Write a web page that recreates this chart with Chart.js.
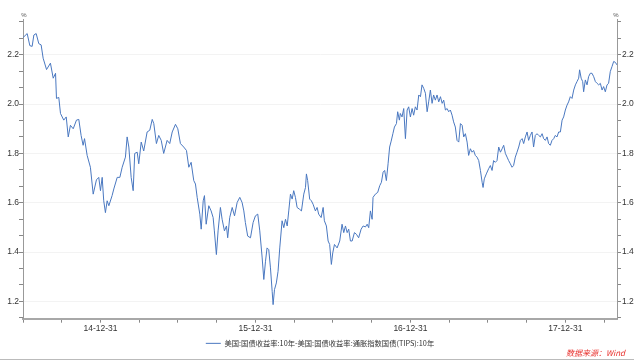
<!DOCTYPE html>
<html>
<head>
<meta charset="utf-8">
<script src="https://cdn.jsdelivr.net/npm/chart.js@4"></script>
<style>
  html, body { margin: 0; padding: 0; background: #fff; }
  #wrap { width: 640px; height: 360px; }
</style>
</head>
<body>
<div id="wrap"><canvas id="spreadChart" width="640" height="360"></canvas></div>
<script>
// time in decimal years (2015.0 = 14-12-31)
const t = [
  2014.501, 2014.527, 2014.544, 2014.559, 2014.570, 2014.585, 2014.602, 2014.617, 2014.630, 2014.652,
  2014.677, 2014.695, 2014.710, 2014.716, 2014.731, 2014.742, 2014.763, 2014.779, 2014.792, 2014.806,
  2014.824, 2014.845, 2014.860, 2014.875, 2014.888, 2014.897, 2014.914, 2014.935, 2014.953, 2014.974,
  2014.989, 2015.000, 2015.011, 2015.021, 2015.032, 2015.043, 2015.054, 2015.075, 2015.086, 2015.108,
  2015.125, 2015.140, 2015.161, 2015.172, 2015.183, 2015.198, 2015.211, 2015.221, 2015.237, 2015.247,
  2015.263, 2015.279, 2015.301, 2015.318, 2015.334, 2015.344, 2015.361, 2015.376, 2015.392, 2015.408,
  2015.430, 2015.447, 2015.463, 2015.484, 2015.499, 2015.516, 2015.537, 2015.555, 2015.570, 2015.585,
  2015.602, 2015.613, 2015.624, 2015.641, 2015.650, 2015.663, 2015.671, 2015.682, 2015.699, 2015.714,
  2015.727, 2015.735, 2015.748, 2015.759, 2015.774, 2015.785, 2015.800, 2015.813, 2015.821, 2015.834,
  2015.850, 2015.865, 2015.882, 2015.899, 2015.914, 2015.925, 2015.935, 2015.950, 2015.968, 2015.985,
  2016.000, 2016.015, 2016.028, 2016.043, 2016.054, 2016.065, 2016.075, 2016.086, 2016.097, 2016.108,
  2016.114, 2016.123, 2016.135, 2016.146, 2016.157, 2016.172, 2016.183, 2016.194, 2016.205, 2016.215,
  2016.226, 2016.237, 2016.247, 2016.258, 2016.269, 2016.284, 2016.297, 2016.312, 2016.323, 2016.329,
  2016.337, 2016.350, 2016.361, 2016.372, 2016.387, 2016.398, 2016.408, 2016.424, 2016.437, 2016.445,
  2016.458, 2016.469, 2016.479, 2016.490, 2016.499, 2016.510, 2016.527, 2016.544, 2016.559, 2016.570,
  2016.581, 2016.592, 2016.602, 2016.613, 2016.624, 2016.639, 2016.652, 2016.666, 2016.682, 2016.695,
  2016.710, 2016.721, 2016.731, 2016.742, 2016.753, 2016.759, 2016.774, 2016.789, 2016.802, 2016.813,
  2016.824, 2016.834, 2016.845, 2016.856, 2016.866, 2016.876, 2016.887, 2016.897, 2016.910, 2016.918,
  2016.929, 2016.935, 2016.946, 2016.957, 2016.968, 2016.979, 2016.989, 2017.000, 2017.011, 2017.021,
  2017.032, 2017.043, 2017.054, 2017.065, 2017.075, 2017.086, 2017.097, 2017.108, 2017.118, 2017.129,
  2017.140, 2017.150, 2017.161, 2017.172, 2017.183, 2017.194, 2017.205, 2017.215, 2017.226, 2017.237,
  2017.247, 2017.258, 2017.269, 2017.279, 2017.290, 2017.301, 2017.312, 2017.323, 2017.334, 2017.344,
  2017.355, 2017.366, 2017.376, 2017.387, 2017.398, 2017.408, 2017.419, 2017.430, 2017.441, 2017.452,
  2017.463, 2017.469, 2017.477, 2017.490, 2017.505, 2017.516, 2017.527, 2017.537, 2017.548, 2017.559,
  2017.570, 2017.581, 2017.592, 2017.602, 2017.613, 2017.624, 2017.634, 2017.645, 2017.656, 2017.666,
  2017.677, 2017.688, 2017.699, 2017.710, 2017.721, 2017.731, 2017.742, 2017.753, 2017.763, 2017.774,
  2017.785, 2017.795, 2017.806, 2017.817, 2017.828, 2017.839, 2017.850, 2017.860, 2017.871, 2017.882,
  2017.892, 2017.903, 2017.914, 2017.925, 2017.935, 2017.946, 2017.957, 2017.968, 2017.979, 2017.989,
  2018.000, 2018.011, 2018.021, 2018.032, 2018.043, 2018.054, 2018.065, 2018.075, 2018.086, 2018.092,
  2018.102, 2018.112, 2018.118, 2018.129, 2018.140, 2018.150, 2018.161, 2018.172, 2018.183, 2018.194,
  2018.205, 2018.215, 2018.226, 2018.237, 2018.247, 2018.258, 2018.269, 2018.279, 2018.290, 2018.301,
  2018.312, 2018.323, 2018.333
];

// 10y nominal minus 10y TIPS, %
const spread = [
  2.270, 2.286, 2.237, 2.234, 2.280, 2.286, 2.245, 2.240, 2.186, 2.140,
  2.166, 2.105, 2.125, 2.023, 2.027, 1.962, 1.935, 1.948, 1.867, 1.914,
  1.900, 1.935, 1.938, 1.873, 1.833, 1.860, 1.792, 1.744, 1.635, 1.693,
  1.703, 1.649, 1.703, 1.608, 1.560, 1.608, 1.588, 1.629, 1.656, 1.703,
  1.703, 1.744, 1.785, 1.867, 1.826, 1.703, 1.649, 1.800, 1.805, 1.758,
  1.846, 1.810, 1.887, 1.894, 1.938, 1.921, 1.840, 1.873, 1.853, 1.800,
  1.853, 1.840, 1.887, 1.918, 1.900, 1.840, 1.826, 1.812, 1.744, 1.764,
  1.690, 1.676, 1.622, 1.554, 1.493, 1.608, 1.629, 1.513, 1.588, 1.567,
  1.540, 1.486, 1.390, 1.486, 1.581, 1.533, 1.486, 1.506, 1.458, 1.540,
  1.581, 1.547, 1.601, 1.622, 1.601, 1.567, 1.520, 1.465, 1.458, 1.520,
  1.547, 1.554, 1.486, 1.380, 1.289, 1.363, 1.417, 1.410, 1.336, 1.241,
  1.187, 1.248, 1.275, 1.322, 1.417, 1.527, 1.499, 1.533, 1.506, 1.567,
  1.635, 1.615, 1.649, 1.622, 1.581, 1.574, 1.567, 1.635, 1.662, 1.717,
  1.690, 1.615, 1.608, 1.594, 1.567, 1.581, 1.554, 1.540, 1.581, 1.527,
  1.506, 1.445, 1.431, 1.350, 1.397, 1.431, 1.417, 1.445, 1.513, 1.479,
  1.506, 1.479, 1.493, 1.445, 1.445, 1.479, 1.472, 1.458, 1.493, 1.506,
  1.502, 1.513, 1.499, 1.567, 1.533, 1.622, 1.635, 1.642, 1.669, 1.683,
  1.724, 1.731, 1.690, 1.758, 1.826, 1.850, 1.880, 1.907, 1.921, 1.969,
  1.935, 1.962, 1.948, 1.982, 1.860, 1.976, 1.989, 1.948, 1.982, 1.955,
  1.989, 1.976, 2.037, 2.030, 2.078, 2.064, 2.044, 1.969, 2.009, 2.057,
  2.003, 2.037, 2.016, 2.037, 2.009, 2.030, 2.003, 2.016, 1.976, 1.982,
  1.969, 1.976, 1.955, 1.928, 1.907, 1.853, 1.846, 1.921, 1.914, 1.867,
  1.880, 1.846, 1.792, 1.819, 1.805, 1.812, 1.792, 1.785, 1.771, 1.731,
  1.683, 1.662, 1.697, 1.717, 1.738, 1.751, 1.731, 1.771, 1.764, 1.771,
  1.826, 1.805, 1.819, 1.833, 1.800, 1.785, 1.771, 1.758, 1.744, 1.751,
  1.785, 1.805, 1.826, 1.853, 1.860, 1.840, 1.867, 1.887, 1.853, 1.873,
  1.887, 1.826, 1.873, 1.880, 1.873, 1.867, 1.880, 1.860, 1.853, 1.867,
  1.840, 1.833, 1.853, 1.860, 1.873, 1.867, 1.887, 1.887, 1.935, 1.948,
  1.976, 1.996, 2.009, 2.030, 2.023, 2.057, 2.078, 2.091, 2.105, 2.139,
  2.105, 2.091, 2.050, 2.098, 2.078, 2.111, 2.125, 2.125, 2.111, 2.091,
  2.084, 2.078, 2.084, 2.057, 2.071, 2.050, 2.078, 2.084, 2.132, 2.152,
  2.173, 2.169, 2.159
];

const xTickYears = [2015, 2016, 2017, 2018];
const xTickLabels = ['14-12-31', '15-12-31', '16-12-31', '17-12-31'];
const yTickLabels = [1.2, 1.4, 1.6, 1.8, 2.0, 2.2];
const seriesName = '美国:国债收益率:10年-美国:国债收益率:通胀指数国债(TIPS):10年';
const sourceText = '数据来源：Wind';

const xMin = 2014.5, xMax = 2018 + 1 / 3;
const yMin = 1.13, yMax = 2.345;

function isMajorY(v) {
  return yTickLabels.some(m => Math.abs(m - v) < 1e-6);
}

// quarters on x, thirds of 0.2 on y
function xTicks() {
  const out = [];
  for (let q = 0; xMin + q * 0.25 < xMax - 1e-6; q++) out.push({ value: xMin + q * 0.25 });
  return out;
}
function yTicks() {
  const out = [];
  for (let k = 17; k <= 35; k++) out.push({ value: k / 15 });
  return out;
}

const extras = {
  id: 'extras',
  afterDraw(chart) {
    const ctx = chart.ctx;
    const a = chart.chartArea;
    ctx.save();
    ctx.fillStyle = '#555';
    ctx.font = '6px "Liberation Sans", sans-serif';
    ctx.textAlign = 'center';
    ctx.textBaseline = 'bottom';
    ctx.fillText('%', a.left + 1, a.top - 1);
    ctx.fillText('%', a.right - 1, a.top - 1);

    ctx.fillStyle = '#e8302c';
    ctx.font = 'italic 8px "Noto Sans CJK SC", sans-serif';
    ctx.textAlign = 'right';
    ctx.textBaseline = 'middle';
    ctx.fillText(sourceText, 625, 353);

    ctx.strokeStyle = '#bbbbbb';
    ctx.lineWidth = 1;
    ctx.beginPath();
    ctx.moveTo(0, 359.5);
    ctx.lineTo(634, 359.5);
    ctx.stroke();
    ctx.restore();
  }
};

const tickFont = { family: '"Liberation Sans", sans-serif', size: 8.5 };

new Chart(document.getElementById('spreadChart').getContext('2d'), {
  type: 'line',
  data: {
    datasets: [{
      label: seriesName,
      data: spread.map((v, i) => ({ x: t[i], y: v })),
      borderColor: '#4a78c0',
      backgroundColor: '#4a78c0',
      borderWidth: 1,
      pointRadius: 0,
      tension: 0,
      yAxisID: 'y'
    }]
  },
  options: {
    responsive: false,
    animation: false,
    devicePixelRatio: 1,
    layout: { padding: { top: 19, left: 0, right: 0, bottom: 3 } },
    plugins: {
      legend: {
        position: 'bottom',
        labels: {
          usePointStyle: true,
          pointStyle: 'line',
          pointStyleWidth: 15,
          boxHeight: 8,
          padding: 3,
          color: '#333',
          font: { family: '"Noto Sans CJK SC", sans-serif', size: 7.3 }
        }
      },
      tooltip: { enabled: false }
    },
    scales: {
      x: {
        type: 'linear',
        min: xMin,
        max: xMax,
        afterFit: s => { s.height = 18; },
        afterBuildTicks: s => { s.ticks = xTicks(); },
        border: { color: '#a8a8a8', width: 2 },
        grid: { drawOnChartArea: false, tickLength: 4, tickColor: '#888' },
        ticks: {
          autoSkip: false,
          maxRotation: 0,
          padding: 1,
          color: '#333',
          font: tickFont,
          callback: v => {
            const i = xTickYears.findIndex(y => Math.abs(y - v) < 1e-6);
            return i >= 0 ? xTickLabels[i] : '';
          }
        }
      },
      y: {
        position: 'left',
        min: yMin,
        max: yMax,
        afterFit: s => { s.width = 23; },
        afterBuildTicks: s => { s.ticks = yTicks(); },
        border: { color: '#999', width: 1 },
        grid: {
          tickLength: 4,
          tickColor: '#888',
          color: c => (c.tick && isMajorY(c.tick.value)) ? '#f3f3f3' : 'rgba(0,0,0,0)'
        },
        ticks: {
          autoSkip: false,
          padding: 0,
          color: '#333',
          font: tickFont,
          callback: v => isMajorY(v) ? v.toFixed(1) : ''
        }
      },
      y2: {
        position: 'right',
        min: yMin,
        max: yMax,
        afterFit: s => { s.width = 23; },
        afterBuildTicks: s => { s.ticks = yTicks(); },
        border: { color: '#999', width: 1 },
        grid: { drawOnChartArea: false, tickLength: 4, tickColor: '#888' },
        ticks: {
          autoSkip: false,
          padding: 1,
          color: '#333',
          font: tickFont,
          callback: v => isMajorY(v) ? v.toFixed(1) : ''
        }
      }
    }
  },
  plugins: [extras]
});
</script>
</body>
</html>
